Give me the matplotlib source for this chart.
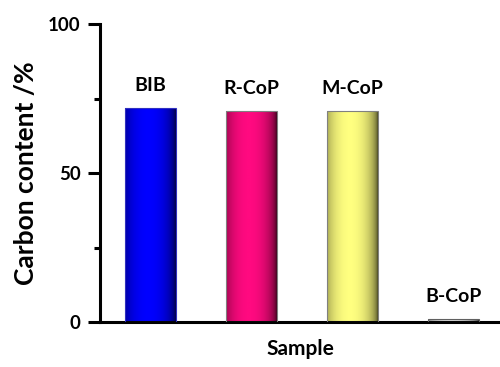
import numpy as np
import matplotlib
matplotlib.use('Agg')
import matplotlib.pyplot as plt
from matplotlib.colors import LinearSegmentedColormap
from matplotlib.ticker import MultipleLocator

# Carbon content per sample
samples = ['BIB', 'R-CoP', 'M-CoP', 'B-CoP']
carbon = [71.7, 70.7, 70.9, 1.0]

# edge / centre colours for the shaded bars
bar_edges = ['#00002a', '#2a0012', '#3a3a1a', '#202020']
bar_centres = ['#0000ff', '#ff0a80', '#ffff80', '#d8d8d8']
bar_outline = ['#3030c0', '#808080', '#808080', '#606060']

plt.rcParams['font.family'] = ['Lato', 'DejaVu Sans']
plt.rcParams['font.weight'] = 'bold'

fig = plt.figure(figsize=(5.0, 3.67), dpi=100)
ax = fig.add_axes([0.2, 0.1226, 0.8, 0.812])

x = np.arange(len(samples))
width = 0.5
bars = ax.bar(x, carbon, width=width, facecolor='none', linewidth=0.8,
              edgecolor=bar_outline, zorder=3)

# horizontal shading: dark sides, bright middle (slightly left of centre)
t = np.linspace(0, 1, 256)
shade = np.clip(1 - ((t - 0.45) / 0.55) ** 2, 0, 1) ** 0.5
gradient = shade[np.newaxis, :]

for bar, c0, c1 in zip(bars, bar_edges, bar_centres):
    cmap = LinearSegmentedColormap.from_list('shade', [c0, c1])
    x0 = bar.get_x()
    x1 = x0 + bar.get_width()
    im = ax.imshow(gradient, extent=[x0, x1, 0, bar.get_height()],
                   cmap=cmap, vmin=0, vmax=1, aspect='auto', zorder=2,
                   interpolation='bilinear')
    im.set_clip_path(bar)

for xi, val, name in zip(x, carbon, samples):
    ax.text(xi, val + 7.5, name, ha='center', va='center',
            fontsize=14, fontweight='bold')

ax.set_xlim(-0.5, 3.46)
ax.set_ylim(0, 100)
ax.yaxis.set_major_locator(MultipleLocator(50))
ax.yaxis.set_minor_locator(MultipleLocator(25))
ax.set_xticks([])

for side in ['top', 'right']:
    ax.spines[side].set_visible(False)
for side in ['left', 'bottom']:
    ax.spines[side].set_linewidth(2.2)

ax.tick_params(axis='y', which='major', direction='out', length=9,
               width=2.2, labelsize=13.5, pad=5)
ax.tick_params(axis='y', which='minor', direction='out', length=4,
               width=2.2)

ax.set_ylabel('Carbon content /%', fontsize=19, fontweight='bold', labelpad=7)
ax.set_xlabel('Sample', fontsize=15, fontweight='bold', labelpad=12)

fig.savefig('out.png', dpi=100)
